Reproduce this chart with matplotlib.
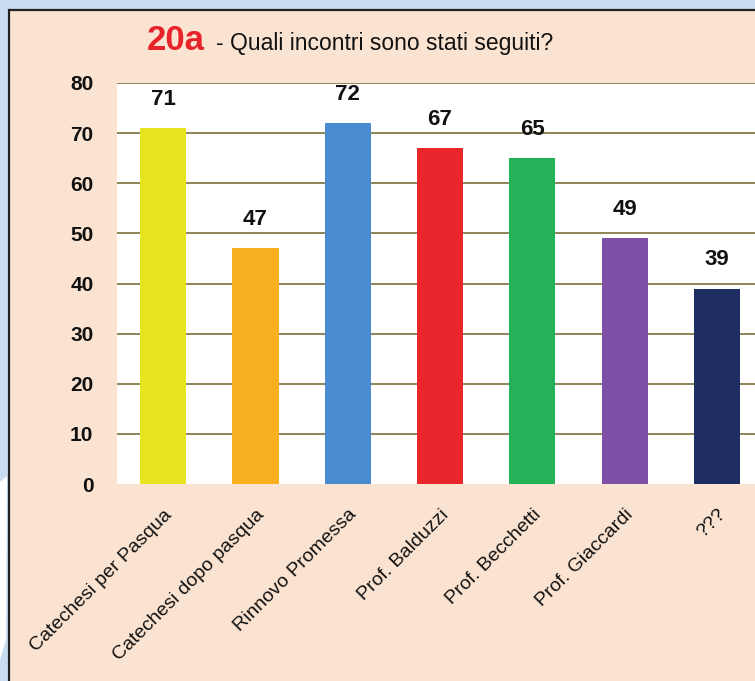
import matplotlib
matplotlib.use("Agg")
import matplotlib.pyplot as plt
from matplotlib.patches import Rectangle, Polygon

# data
categories = ["Catechesi per Pasqua", "Catechesi dopo pasqua", "Rinnovo Promessa",
              "Prof. Balduzzi", "Prof. Becchetti", "Prof. Giaccardi", "???"]
values = [71, 47, 72, 67, 65, 49, 39]
bar_colors = ["#e6e41e", "#f8b020", "#4a8cd2", "#e9262b", "#24b157", "#7d4fa6", "#1f2e62"]
yticks = [0, 10, 20, 30, 40, 50, 60, 70, 80]

W, H = 755, 681
fig = plt.figure(figsize=(W / 100, H / 100), dpi=100)
fig.patch.set_facecolor("#c9ddf0")

# peach panel with dark border, runs off the right/bottom edge
fig.patches.append(Rectangle((9 / W, -0.05), 1.1, (H - 10) / H + 0.05, transform=fig.transFigure,
                             facecolor="#fbe3d1", edgecolor="#222222", linewidth=1.6, zorder=-2))
# white wedge in the blue strip bottom-left
fig.patches.append(Polygon([(0, (H - 482) / H), (7 / W, (H - 476) / H), (6 / W, (H - 640) / H),
                            (0, (H - 660) / H)], closed=True, transform=fig.transFigure,
                           facecolor="white", edgecolor="none", zorder=-2))

# axes: 0 at y=484, 80 at y=83, x from 117 to 763 (cut off)
left, right, top, bottom = 117, 763, 83, 484
ax = fig.add_axes([left / W, (H - bottom) / H, (right - left) / W, (bottom - top) / H])
ax.set_zorder(1)
ax.set_facecolor("white")

x = range(len(categories))
bars = ax.bar(x, values, width=0.5, color=bar_colors, zorder=3)
for xi, v in zip(x, values):
    ax.annotate(str(v), (xi, v), xytext=(0, 13), textcoords="offset points",
                ha="center", va="bottom", fontsize=16, fontweight="bold",
                family="Liberation Sans", color="#111111")

ax.set_xlim(-0.5, len(categories) - 0.5)
ax.set_ylim(0, 80)
ax.set_yticks(yticks)
ax.set_yticklabels([str(t) for t in yticks], fontsize=15, fontweight="bold",
                   family="Liberation Sans")
ax.set_xticks(list(x))
ax.set_xticklabels(categories, rotation=45, ha="right", va="top", rotation_mode="anchor",
                   fontsize=14, family="Liberation Sans")
ax.tick_params(axis="both", length=0, colors="#111111")
ax.tick_params(axis="y", pad=17)
ax.tick_params(axis="x", pad=16)
for s in ax.spines.values():
    s.set_visible(False)

ax.grid(axis="y", color="#7d6f3c", linewidth=1.2, zorder=1)
ax.set_axisbelow(True)
ax.get_ygridlines()[0].set_visible(False)

# title: red "20a" plus black question
fig.text(147 / W, (H - 50) / H, "20a", color="#e8222a", fontsize=25, fontweight="bold",
         family="Liberation Sans", ha="left", va="baseline")
fig.text(216 / W, (H - 50) / H, "- Quali incontri sono stati seguiti?", color="#111111",
         fontsize=16.5, family="Liberation Sans", ha="left", va="baseline")

fig.savefig("out.png", dpi=100, facecolor=fig.get_facecolor())
